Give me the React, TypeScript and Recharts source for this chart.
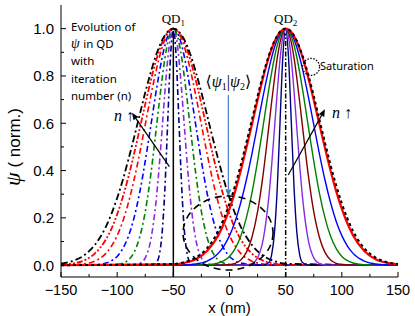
import { LineChart, Line, XAxis, YAxis, ReferenceLine, ReferenceDot } from "recharts";

const SANS = "'Liberation Sans', Arial, sans-serif";
const SERIF = "'Liberation Serif', 'DejaVu Serif', serif";
const NOTE = "'Noto Sans', 'Open Sans', sans-serif";

const X_MAJOR = [-150, -100, -50, 0, 50, 100, 150];
const X_TICKS = [-150, -125, -100, -75, -50, -25, 0, 25, 50, 75, 100, 125, 150];
const Y_MAJOR = [0, 0.2, 0.4, 0.6, 0.8, 1];
const Y_TICKS = [0, 0.1, 0.2, 0.3, 0.4, 0.5, 0.6, 0.7, 0.8, 0.9, 1];

const QD1_CENTER = -50;
const QD2_CENTER = 50;

// distance from the dot centre (nm); each profile below is read at these offsets
const OFFSETS = [0, 2.5, 5, 7.5, 10, 12.5, 15, 20, 25, 30, 35, 40, 45, 50, 55, 60, 70, 80, 90, 100, 200];

// QD1, dash-dot, outer -> inner
const qd1Black = [1, 0.997, 0.987, 0.972, 0.951, 0.924, 0.893, 0.817, 0.73, 0.635, 0.539, 0.447, 0.36, 0.284, 0.218, 0.163, 0.085, 0.04, 0.017, 0.006, 0];
const qd1RedA = [1, 0.996, 0.985, 0.966, 0.94, 0.908, 0.871, 0.782, 0.681, 0.575, 0.47, 0.373, 0.288, 0.215, 0.155, 0.109, 0.049, 0.019, 0.007, 0.002, 0];
const qd1RedB = [1, 0.995, 0.979, 0.954, 0.92, 0.878, 0.829, 0.717, 0.594, 0.472, 0.36, 0.264, 0.185, 0.125, 0.081, 0.05, 0.017, 0.005, 0.001, 0, 0];
const qd1Blue = [1, 0.992, 0.968, 0.929, 0.877, 0.814, 0.744, 0.591, 0.44, 0.306, 0.2, 0.122, 0.07, 0.037, 0.019, 0.009, 0.002, 0, 0, 0, 0];
const qd1Green = [1, 0.985, 0.942, 0.875, 0.788, 0.69, 0.586, 0.386, 0.226, 0.118, 0.054, 0.022, 0.008, 0.003, 0.001, 0, 0, 0, 0, 0, 0];
const qd1Purple = [1, 0.966, 0.871, 0.732, 0.575, 0.421, 0.288, 0.109, 0.031, 0.007, 0.001, 0, 0, 0, 0, 0, 0, 0, 0, 0, 0];
const qd1Navy = [1, 0.8825, 0.6065, 0.3247, 0.1353, 0.0439, 0.0111, 0.0003, 0, 0, 0, 0, 0, 0, 0, 0, 0, 0, 0, 0, 0];

// QD2, solid, inner -> outer, plus the saturated profile
const qd2Navy = [1, 0.8825, 0.6065, 0.3247, 0.1353, 0.0439, 0.0111, 0.0003, 0, 0, 0, 0, 0, 0, 0, 0, 0, 0, 0, 0, 0];
const qd2Purple = [1, 0.966, 0.871, 0.732, 0.575, 0.421, 0.288, 0.109, 0.031, 0.007, 0.001, 0, 0, 0, 0, 0, 0, 0, 0, 0, 0];
const qd2Brown = [1, 0.985, 0.942, 0.875, 0.788, 0.69, 0.586, 0.386, 0.226, 0.118, 0.054, 0.022, 0.008, 0.003, 0.001, 0, 0, 0, 0, 0, 0];
const qd2Green = [1, 0.992, 0.968, 0.929, 0.877, 0.814, 0.744, 0.591, 0.44, 0.306, 0.2, 0.122, 0.07, 0.037, 0.019, 0.009, 0.002, 0, 0, 0, 0];
const qd2Blue = [1, 0.995, 0.979, 0.954, 0.92, 0.878, 0.829, 0.717, 0.594, 0.472, 0.36, 0.264, 0.185, 0.125, 0.081, 0.05, 0.017, 0.005, 0.001, 0, 0];
const qd2Red = [1, 0.996, 0.986, 0.968, 0.944, 0.914, 0.879, 0.795, 0.698, 0.596, 0.495, 0.399, 0.312, 0.238, 0.176, 0.126, 0.06, 0.025, 0.01, 0.003, 0];
const qd2Saturation = [1, 0.997, 0.987, 0.97, 0.948, 0.919, 0.886, 0.807, 0.715, 0.616, 0.518, 0.423, 0.337, 0.261, 0.197, 0.144, 0.072, 0.032, 0.013, 0.005, 0];

const toPoints = (center: number, values: number[]) => {
  const pts: { x: number; y: number }[] = [];
  for (let i = OFFSETS.length - 1; i > 0; i--) pts.push({ x: center - OFFSETS[i], y: values[i] });
  for (let i = 0; i < OFFSETS.length; i++) pts.push({ x: center + OFFSETS[i], y: values[i] });
  return pts.filter((p) => p.x >= -150 && p.x <= 150);
};

const LEFT_DASH = "6 3 2 3";
const SERIES = [
  { key: "qd1Navy", c: QD1_CENTER, v: qd1Navy, color: "#000080", w: 1.6, dash: LEFT_DASH },
  { key: "qd1Purple", c: QD1_CENTER, v: qd1Purple, color: "#8a2be2", w: 1.6, dash: LEFT_DASH },
  { key: "qd1Green", c: QD1_CENTER, v: qd1Green, color: "#008000", w: 1.6, dash: LEFT_DASH },
  { key: "qd1Blue", c: QD1_CENTER, v: qd1Blue, color: "#0000ff", w: 1.6, dash: LEFT_DASH },
  { key: "qd1RedB", c: QD1_CENTER, v: qd1RedB, color: "#ff0000", w: 1.6, dash: LEFT_DASH },
  { key: "qd1RedA", c: QD1_CENTER, v: qd1RedA, color: "#ff0000", w: 1.8, dash: "6 2 2 2 2 2" },
  { key: "qd1Black", c: QD1_CENTER, v: qd1Black, color: "#000000", w: 1.8, dash: "7 3 2 3" },
  { key: "qd2Navy", c: QD2_CENTER, v: qd2Navy, color: "#000080", w: 1.4, dash: undefined },
  { key: "qd2Purple", c: QD2_CENTER, v: qd2Purple, color: "#8a2be2", w: 1.4, dash: undefined },
  { key: "qd2Brown", c: QD2_CENTER, v: qd2Brown, color: "#800000", w: 1.4, dash: undefined },
  { key: "qd2Green", c: QD2_CENTER, v: qd2Green, color: "#008000", w: 1.4, dash: undefined },
  { key: "qd2Blue", c: QD2_CENTER, v: qd2Blue, color: "#0000ff", w: 1.4, dash: undefined },
  { key: "qd2Red", c: QD2_CENTER, v: qd2Red, color: "#ff0000", w: 2.2, dash: undefined },
  { key: "qd2Saturation", c: QD2_CENTER, v: qd2Saturation, color: "#000000", w: 2, dash: "3 3" },
];

const fmtX = (v: number) => (v < 0 ? "\u2212" + Math.abs(v) : String(v));

const BottomTick = (p: any) => {
  const major = X_MAJOR.includes(p.payload.value);
  return (
    <g>
      <line x1={p.x} x2={p.x} y1={p.y} y2={p.y - (major ? 5 : 3)} stroke="#000" />
      {major && (
        <text x={p.x} y={p.y + 18} textAnchor="middle" fontSize={14.5} fontFamily={SANS} fill="#000">
          {fmtX(p.payload.value)}
        </text>
      )}
    </g>
  );
};
const TopTick = (p: any) => {
  const major = X_MAJOR.includes(p.payload.value);
  return <line x1={p.x} x2={p.x} y1={p.y} y2={p.y + (major ? 5 : 3)} stroke="#000" />;
};
const LeftTick = (p: any) => {
  const major = Y_MAJOR.includes(p.payload.value);
  return (
    <g>
      <line x1={p.x} x2={p.x + (major ? 5 : 3)} y1={p.y} y2={p.y} stroke="#000" />
      {major && (
        <text x={p.x - 7} y={p.y} dy="0.36em" textAnchor="end" fontSize={15} fontFamily={SANS} fill="#000">
          {p.payload.value.toFixed(1)}
        </text>
      )}
    </g>
  );
};
const RightTick = (p: any) => {
  const major = Y_MAJOR.includes(p.payload.value);
  return <line x1={p.x} x2={p.x - (major ? 5 : 3)} y1={p.y} y2={p.y} stroke="#000" />;
};

const YLabel = (props: any) => {
  const vb = props.viewBox;
  const cx = vb.x - 2;
  const cy = vb.y + vb.height / 2 + 6;
  return (
    <text x={cx} y={cy} transform={`rotate(-90 ${cx} ${cy})`} textAnchor="middle" dy="0.35em" fill="#000">
      <tspan fontFamily={SERIF} fontStyle="italic" fontSize={22}>ψ</tspan>
      <tspan fontFamily={SANS} fontSize={17}> ( norm.)</tspan>
    </text>
  );
};

const XLabel = (props: any) => {
  const vb = props.viewBox;
  return (
    <text x={vb.x + vb.width / 2} y={vb.y + vb.height - 3.5} textAnchor="middle" fontSize={15} fontFamily={SANS} fill="#000">
      x (nm)
    </text>
  );
};

const arrow = (color: string, width: number) => (p: any) => {
  const { x1, y1, x2, y2 } = p;
  const a = Math.atan2(y2 - y1, x2 - x1);
  const L = 7;
  const W = 3;
  const bx = x2 - L * Math.cos(a);
  const by = y2 - L * Math.sin(a);
  const s = Math.sin(a);
  const c = Math.cos(a);
  return (
    <g>
      <line x1={x1} y1={y1} x2={bx} y2={by} stroke={color} strokeWidth={width} />
      <polygon points={`${x2},${y2} ${bx + W * s},${by - W * c} ${bx - W * s},${by + W * c}`} fill={color} />
    </g>
  );
};

const note = (key: string, x: number, y: number, render: (cx: number, cy: number) => any) => (
  <ReferenceDot key={key} x={x} y={y} r={1} ifOverflow="visible" shape={(p: any) => render(p.cx, p.cy)} />
);

const EVOLUTION = ["Evolution of", "in QD", "with", "iteration", "number (n)"];

export default function App() {
  return (
    <div style={{ position: "absolute", left: 0, top: 0, width: 415, height: 316, background: "#fff" }}>
      <LineChart width={415} height={316} margin={{ top: 5, right: 17, bottom: 0, left: 16 }}>
        <XAxis
          dataKey="x"
          type="number"
          domain={[-150, 150]}
          ticks={X_TICKS}
          interval={0}
          height={39}
          tickSize={0}
          tickMargin={0}
          tickLine={false}
          tick={<BottomTick />}
          axisLine={{ stroke: "#000" }}
          allowDataOverflow
          label={{ content: <XLabel /> }}
        />
        <XAxis
          xAxisId="top"
          orientation="top"
          type="number"
          domain={[-150, 150]}
          ticks={X_TICKS}
          interval={0}
          height={0}
          tickSize={0}
          tickMargin={0}
          tickLine={false}
          tick={<TopTick />}
          axisLine={{ stroke: "#000" }}
          allowDataOverflow
        />
        <YAxis
          type="number"
          domain={[-0.05, 1.1]}
          ticks={Y_TICKS}
          interval={0}
          width={45}
          tickSize={0}
          tickMargin={0}
          tickLine={false}
          tick={<LeftTick />}
          axisLine={{ stroke: "#000" }}
          allowDataOverflow
          label={{ content: <YLabel /> }}
        />
        <YAxis
          yAxisId="right"
          orientation="right"
          type="number"
          domain={[-0.05, 1.1]}
          ticks={Y_TICKS}
          interval={0}
          width={0}
          tickSize={0}
          tickMargin={0}
          tickLine={false}
          tick={<RightTick />}
          axisLine={{ stroke: "#000" }}
          allowDataOverflow
        />

        {SERIES.map((s) => (
          <Line
            key={s.key}
            data={toPoints(s.c, s.v)}
            dataKey="y"
            type="monotone"
            stroke={s.color}
            strokeWidth={s.w}
            strokeDasharray={s.dash}
            dot={false}
            activeDot={false}
            isAnimationActive={false}
          />
        ))}

        <ReferenceLine segment={[{ x: QD1_CENTER, y: -0.05 }, { x: QD1_CENTER, y: 0.99 }]} stroke="#000" strokeWidth={1.5} />
        <ReferenceLine
          segment={[{ x: QD2_CENTER, y: -0.05 }, { x: QD2_CENTER, y: 0.98 }]}
          stroke="#000"
          strokeWidth={1.5}
          strokeDasharray="5 2 1.5 2"
        />

        <ReferenceLine segment={[{ x: -53.5, y: 0.417 }, { x: -86.8, y: 0.644 }]} shape={arrow("#000", 1.2)} ifOverflow="visible" />
        <ReferenceLine segment={[{ x: 52.3, y: 0.381 }, { x: 85, y: 0.659 }]} shape={arrow("#000", 1.2)} ifOverflow="visible" />
        <ReferenceLine segment={[{ x: -1, y: 0.72 }, { x: -1, y: 0.29 }]} shape={arrow("#4a7ebf", 1.2)} ifOverflow="visible" />

        {note("overlap", -1.3, 0.136, (cx, cy) => (
          <ellipse cx={cx} cy={cy} rx={45} ry={37} fill="none" stroke="#000" strokeWidth={1.6} strokeDasharray="7 5" />
        ))}
        {note("satCircle", 72.6, 0.838, (cx, cy) => (
          <circle cx={cx} cy={cy} r={8.5} fill="none" stroke="#000" strokeWidth={1.3} strokeDasharray="1.5 1.5" />
        ))}
        {note("satText", 80.6, 0.842, (cx, cy) => (
          <text x={cx} y={cy} dy="0.35em" fontSize={11} fontFamily={NOTE} fill="#000">Saturation</text>
        ))}
        {note("qd1", QD1_CENTER, 1.045, (cx, cy) => (
          <text x={cx} y={cy} dy="0.35em" textAnchor="middle" fontSize={13} fontFamily={SERIF} fill="#000">
            QD<tspan fontSize={9} dy={3}>1</tspan>
          </text>
        ))}
        {note("qd2", QD2_CENTER, 1.045, (cx, cy) => (
          <text x={cx} y={cy} dy="0.35em" textAnchor="middle" fontSize={13} fontFamily={SERIF} fill="#000">
            QD<tspan fontSize={9} dy={3}>2</tspan>
          </text>
        ))}
        {note("bracket", -1, 0.775, (cx, cy) => (
          <text x={cx} y={cy} dy="0.35em" textAnchor="middle" fontSize={16} fontFamily={SERIF} fill="#000">
            {"\u27e8"}
            <tspan fontStyle="italic">ψ</tspan>
            <tspan fontSize={10} dy={3}>1</tspan>
            <tspan dy={-3}>|</tspan>
            <tspan fontStyle="italic">ψ</tspan>
            <tspan fontSize={10} dy={3}>2</tspan>
            <tspan dy={-3}>{"\u27e9"}</tspan>
          </text>
        ))}
        {note("n1", -93.9, 0.635, (cx, cy) => (
          <text x={cx} y={cy} dy="0.35em" textAnchor="middle" fontSize={16} fontFamily={SERIF} fill="#000">
            <tspan fontStyle="italic">n</tspan> ↑
          </text>
        ))}
        {note("n2", 100.2, 0.648, (cx, cy) => (
          <text x={cx} y={cy} dy="0.35em" textAnchor="middle" fontSize={16} fontFamily={SERIF} fill="#000">
            <tspan fontStyle="italic">n</tspan> ↑
          </text>
        ))}
        {note("evolution", -141.1, 1.007, (cx, cy) => (
          <g fontSize={11.5} fontFamily={NOTE} fill="#000">
            {EVOLUTION.map((t, i) => (
              <text key={t} x={cx} y={cy + i * 17.2} dy="0.35em">
                {i === 1 && (
                  <tspan fontFamily={SERIF} fontStyle="italic" fontSize={14}>ψ </tspan>
                )}
                {t}
              </text>
            ))}
          </g>
        ))}
      </LineChart>
    </div>
  );
}
